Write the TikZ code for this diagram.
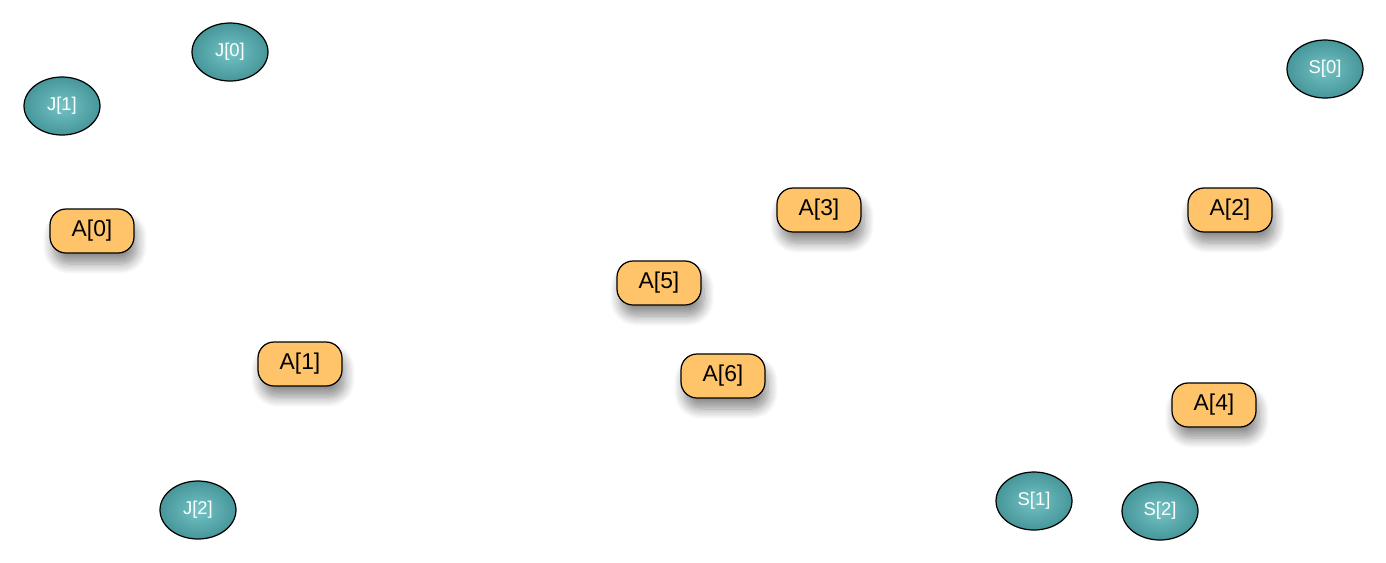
\documentclass[tikz,border=0pt]{standalone}
\usepackage{fontspec}
\setmainfont{Liberation Sans}
\usepackage{tikz}
\usetikzlibrary{shapes.geometric}
\usetikzlibrary{shadows.blur}
\definecolor{tealin}{HTML}{74C4C6}
\definecolor{tealout}{HTML}{46969A}
\definecolor{boxfill}{HTML}{FFC46A}
\tikzset{
  job/.style={shape=ellipse,draw,line width=0.7pt,inner color=tealin,outer color=tealout,
    minimum width=1.52cm,minimum height=1.16cm,inner sep=0pt,text=white,font=\fontsize{10.5}{12}\selectfont},
  agent/.style={shape=rectangle,rounded corners=0.32cm,draw,line width=0.7pt,fill=boxfill,
    minimum width=1.68cm,minimum height=0.88cm,inner sep=0pt,font=\fontsize{13}{14}\selectfont,
    blur shadow={shadow xshift=0.06cm,shadow yshift=-0.22cm,shadow blur steps=10,shadow blur radius=0.2cm,shadow opacity=45}}
}
\begin{document}
\begin{tikzpicture}[x=0.02cm,y=-0.02cm]
    \useasboundingbox (0,0) rectangle (1386,562);
	\node (j0) at (230,52) [job] {J[0]};
	\node (j1) at (62,106) [job] {J[1]};
	\node (j2) at (198,510) [job] {J[2]};
	\node (s0) at (1325,69) [job] {S[0]};
	\node (s1) at (1034,501) [job] {S[1]};
	\node (s2) at (1160,511) [job] {S[2]};
	\node (a0) at (92,231) [agent] {A[0]};
	\node (a1) at (300,364) [agent] {A[1]};
	\node (a2) at (1230,210) [agent] {A[2]};
	\node (a3) at (819,210) [agent] {A[3]};
	\node (a4) at (1214,405) [agent] {A[4]};
	\node (a5) at (659,283) [agent] {A[5]};
	\node (a6) at (723,376) [agent] {A[6]};
\end{tikzpicture}
\end{document}
